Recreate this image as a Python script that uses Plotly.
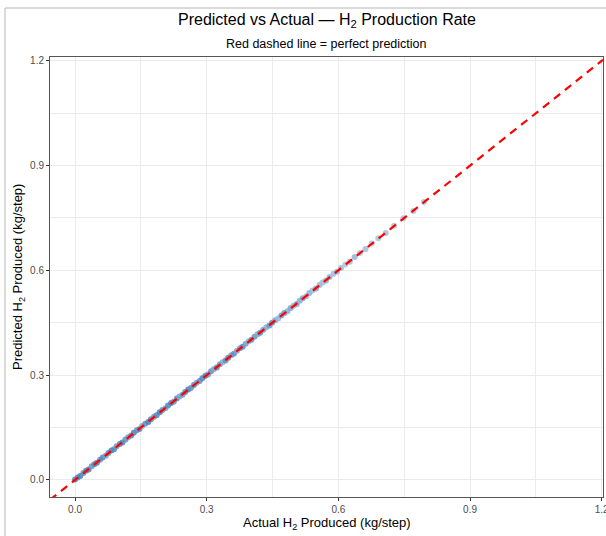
import plotly.graph_objects as go

# Observed vs model-predicted hydrogen output per simulation step (kg/step)
actual_h2 = [0.000, 0.006, 0.012, 0.019, 0.025, 0.031, 0.038, 0.044, 0.050, 0.057,
             0.063, 0.070, 0.076, 0.083, 0.089, 0.095, 0.102, 0.108, 0.115, 0.121,
             0.128, 0.134, 0.141, 0.147, 0.153, 0.160, 0.167, 0.173, 0.180, 0.186,
             0.193, 0.199, 0.206, 0.212, 0.219, 0.225, 0.232, 0.238, 0.245, 0.251,
             0.258, 0.264, 0.271, 0.277, 0.284, 0.290, 0.297, 0.303, 0.310, 0.316,
             0.323, 0.330, 0.336, 0.343, 0.349, 0.356, 0.362, 0.369, 0.376, 0.382,
             0.389, 0.396, 0.402, 0.409, 0.416, 0.422, 0.429, 0.436, 0.443, 0.449,
             0.456, 0.463, 0.470, 0.477, 0.484, 0.491, 0.498, 0.505, 0.512, 0.519,
             0.527, 0.534, 0.541, 0.549, 0.557, 0.564, 0.572, 0.580, 0.589, 0.597,
             0.606, 0.616, 0.626, 0.637, 0.649, 0.662, 0.676, 0.691, 0.708, 0.727,
             0.748, 0.771, 0.795]
predicted_h2 = [0.001, 0.007, 0.011, 0.020, 0.026, 0.030, 0.039, 0.045, 0.049, 0.058,
                0.064, 0.069, 0.077, 0.084, 0.088, 0.096, 0.103, 0.107, 0.116, 0.122,
                0.127, 0.135, 0.142, 0.146, 0.154, 0.161, 0.166, 0.174, 0.181, 0.185,
                0.194, 0.200, 0.205, 0.213, 0.220, 0.224, 0.233, 0.239, 0.244, 0.252,
                0.259, 0.263, 0.272, 0.278, 0.283, 0.291, 0.298, 0.302, 0.311, 0.317,
                0.322, 0.331, 0.337, 0.342, 0.350, 0.357, 0.361, 0.370, 0.377, 0.381,
                0.390, 0.397, 0.401, 0.410, 0.417, 0.421, 0.430, 0.437, 0.442, 0.450,
                0.457, 0.462, 0.471, 0.478, 0.483, 0.492, 0.499, 0.504, 0.513, 0.520,
                0.526, 0.535, 0.542, 0.548, 0.558, 0.565, 0.571, 0.581, 0.590, 0.596,
                0.607, 0.617, 0.625, 0.638, 0.650, 0.661, 0.677, 0.692, 0.707, 0.728,
                0.749, 0.770, 0.796]
# Operating-condition shade for each step (0 = dark steel blue, 1 = pale blue)
shade = [0.1, 0.2, 0.1, 0.3, 0.2, 0.1, 0.4, 0.2, 0.1, 0.3,
         0.2, 0.5, 0.3, 0.1, 0.2, 0.4, 0.2, 0.1, 0.3, 0.5,
         0.2, 0.1, 0.3, 0.2, 0.6, 0.3, 0.1, 0.2, 0.4, 0.2,
         0.1, 0.3, 0.5, 0.2, 0.1, 0.3, 0.2, 0.6, 0.4, 0.2,
         0.1, 0.3, 0.2, 0.5, 0.3, 0.2, 0.1, 0.4, 0.3, 0.6,
         0.2, 0.4, 0.7, 0.3, 0.2, 0.5, 0.3, 0.6, 0.4, 0.2,
         0.5, 0.7, 0.3, 0.4, 0.6, 0.3, 0.5, 0.7, 0.4, 0.3,
         0.6, 0.8, 0.5, 0.4, 0.7, 0.6, 0.8, 0.5, 0.7, 0.6,
         0.8, 0.7, 0.9, 0.6, 0.8, 0.9, 0.7, 0.8, 0.9, 0.8,
         0.9, 1.0, 0.9, 0.8, 1.0, 0.9, 1.0, 1.0, 0.9, 1.0,
         1.0, 1.0, 1.0]

x_ticks = [0.0, 0.3, 0.6, 0.9, 1.2]
y_ticks = [0.0, 0.3, 0.6, 0.9, 1.2]
x_range = [-0.057, 1.203]
y_range = [-0.049, 1.211]

fig = go.Figure()

fig.add_trace(go.Scatter(
    x=actual_h2, y=predicted_h2, mode="markers",
    marker=dict(size=6, color=shade, cmin=0, cmax=1,
                colorscale=[[0, "#3E79B3"], [1, "#A4C6E2"]],
                opacity=0.85, line=dict(width=0)),
    showlegend=False, hoverinfo="x+y",
))

# Identity line y = x across the full panel
fig.add_trace(go.Scatter(
    x=[x_range[0], x_range[1]], y=[x_range[0], x_range[1]], mode="lines",
    line=dict(color="#FF0000", width=2.2, dash="8px,6px"),
    showlegend=False, hoverinfo="skip",
))

grid = "#EBEBEB"
tick_font = dict(family="Liberation Sans, Arial, sans-serif", size=10, color="#4D4D4D")
title_font = dict(family="Liberation Sans, Arial, sans-serif", size=13, color="#000000")

fig.update_xaxes(
    range=x_range, tickvals=x_ticks, ticktext=[f"{v:.1f}" for v in x_ticks],
    ticklabeloverflow="allow", automargin=False,
    showgrid=True, gridcolor=grid, gridwidth=1,
    minor=dict(tickvals=[0.15, 0.45, 0.75, 1.05], showgrid=True, gridcolor=grid, gridwidth=0.6),
    ticks="outside", ticklen=3, tickcolor="#333333", tickfont=tick_font,
    showline=True, linecolor="#555555", linewidth=1, mirror=True, zeroline=False,
    title=None,
)
fig.update_yaxes(
    range=y_range, tickvals=y_ticks, ticktext=[f"{v:.1f}" for v in y_ticks],
    ticklabeloverflow="allow", automargin=False,
    showgrid=True, gridcolor=grid, gridwidth=1,
    minor=dict(tickvals=[0.15, 0.45, 0.75, 1.05], showgrid=True, gridcolor=grid, gridwidth=0.6),
    ticks="outside", ticklen=3, tickcolor="#333333", tickfont=tick_font,
    showline=True, linecolor="#555555", linewidth=1, mirror=True, zeroline=False,
    title=None,
)

W, H = 606, 536
L, R, T, B = 50, 3, 57, 39
pw, ph = W - L - R, H - T - B


def px_x(x):
    return (x - L) / pw


def px_y(y):
    return (H - B - y) / ph


fig.update_layout(
    width=W, height=H,
    margin=dict(l=L, r=R, t=T, b=B),
    paper_bgcolor="white", plot_bgcolor="white",
    font=dict(family="Liberation Sans, Arial, sans-serif"),
    annotations=[
        dict(text="Predicted vs Actual \u2014 H<sub>2</sub> Production Rate",
             xref="paper", yref="paper", x=0.5, y=px_y(20),
             xanchor="center", yanchor="middle", showarrow=False,
             font=dict(size=16, color="#000000")),
        dict(text="Red dashed line = perfect prediction",
             xref="paper", yref="paper", x=0.5, y=px_y(44),
             xanchor="center", yanchor="middle", showarrow=False,
             font=dict(size=12.5, color="#000000")),
        dict(text="Actual H<sub>2</sub> Produced (kg/step)",
             xref="paper", yref="paper", x=0.5, y=px_y(523),
             xanchor="center", yanchor="middle", showarrow=False,
             font=title_font),
        dict(text="Predicted H<sub>2</sub> Produced (kg/step)",
             xref="paper", yref="paper", x=px_x(18), y=0.5, textangle=-90,
             xanchor="center", yanchor="middle", showarrow=False,
             font=title_font),
    ],
    shapes=[
        # outer figure frame
        dict(type="rect", xref="paper", yref="paper",
             x0=px_x(5), x1=1.2, y0=-0.3, y1=px_y(8),
             line=dict(color="#B5B5B5", width=1), layer="below"),
    ],
)

fig.write_html("out.html")
